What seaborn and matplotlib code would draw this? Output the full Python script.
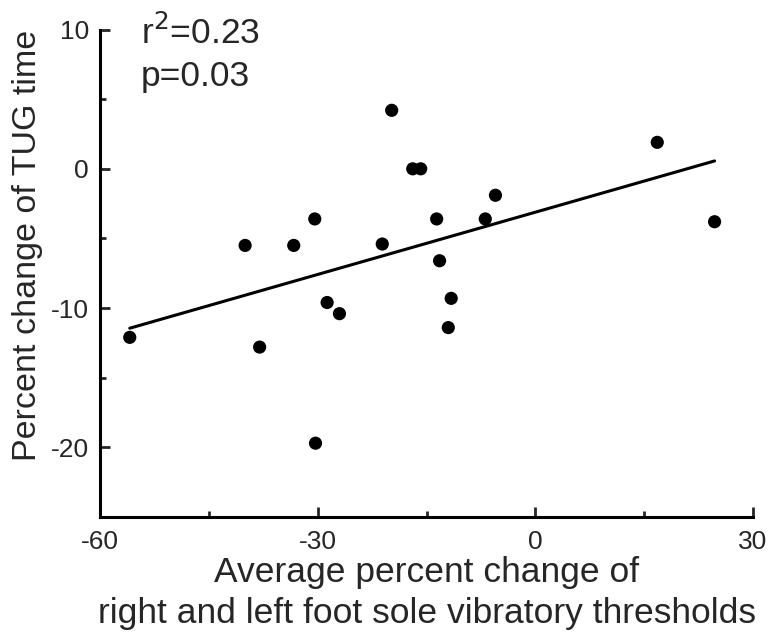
import pandas as pd
import matplotlib.pyplot as plt
import seaborn as sns
from matplotlib.ticker import MultipleLocator

# values
vib_change = [-55.9, -40.0, -38.0, -33.3, -30.4, -30.3, -28.7, -27.0, -21.1, -19.8,
              -16.9, -15.8, -13.6, -13.2, -12.0, -11.6, -6.9, -5.5, 16.8, 24.7]
tug_change = [-12.1, -5.5, -12.8, -5.5, -3.6, -19.7, -9.6, -10.4, -5.4, 4.2,
              0.0, 0.0, -3.6, -6.6, -11.4, -9.3, -3.6, -1.9, 1.9, -3.8]
x_ticks = [-60, -30, 0, 30]
y_ticks = [-20, -10, 0, 10]

df = pd.DataFrame({'vib': vib_change, 'tug': tug_change})

sns.set_style("ticks")
plt.rcParams['font.family'] = ['Liberation Sans', 'DejaVu Sans']
plt.rcParams['axes.unicode_minus'] = False

fig = plt.figure(figsize=(7.71, 6.35), dpi=100)
ax = fig.add_axes([0.1297, 0.1858, 0.847, 0.7677])

sns.regplot(data=df, x='vib', y='tug', ci=None, ax=ax, truncate=True,
            scatter_kws={'s': 90, 'color': 'black', 'edgecolors': 'none', 'alpha': 1},
            line_kws={'color': 'black', 'linewidth': 2.2})

ax.set_xlim(-60, 30)
ax.set_ylim(-25, 10)
ax.set_xticks(x_ticks)
ax.set_yticks(y_ticks)
ax.xaxis.set_minor_locator(MultipleLocator(15))
ax.yaxis.set_minor_locator(MultipleLocator(5))
ax.tick_params(which='major', direction='in', length=7, width=2)
ax.tick_params(axis='y', which='major', pad=8, labelsize=19)
ax.tick_params(axis='x', which='major', pad=9, labelsize=19)
ax.tick_params(which='minor', direction='in', length=4, width=2)

for side in ['top', 'right']:
    ax.spines[side].set_visible(False)
for side in ['left', 'bottom']:
    ax.spines[side].set_linewidth(2.2)
    ax.spines[side].set_color('black')

ax.set_xlabel('Average percent change of\nright and left foot sole vibratory thresholds',
              fontsize=25.5, labelpad=2, linespacing=1.28)
ax.set_ylabel('Percent change of TUG time', fontsize=24.5)
ax.yaxis.set_label_coords(-0.087, 0.558)

ax.text(-54.4, 8.97, 'r$^2$=0.23', fontsize=25.5, va='baseline', ha='left')
ax.text(-54.4, 5.95, 'p=0.03', fontsize=25.5, va='baseline', ha='left')

plt.savefig('out.png', dpi=100)
plt.close()
